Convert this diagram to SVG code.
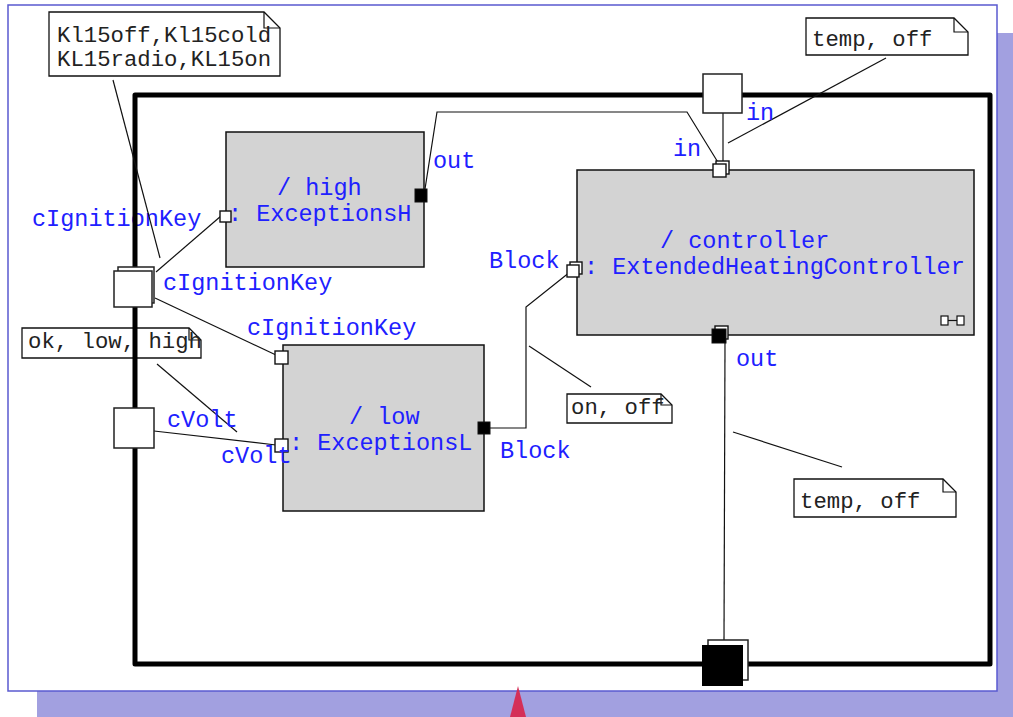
<svg xmlns="http://www.w3.org/2000/svg" width="1013" height="717" viewBox="0 0 1013 717">
  <defs>
    <style>
      .lbl { font-family: "Liberation Mono", "Courier New", monospace; font-size: 23.5px; fill: #2020ff; }
      .ntx { font-family: "Liberation Mono", "Courier New", monospace; font-size: 22.3px; fill: #222; }
      .part { fill: #d3d3d3; stroke: #111; stroke-width: 1.5; }
      .note { fill: #fff; stroke: #111; stroke-width: 1.3; }
      .fold { fill: none; stroke: #111; stroke-width: 1.2; }
      .pin { fill: #fff; stroke: #111; stroke-width: 1.4; }
      .pinb { fill: #000; stroke: #111; stroke-width: 1; }
      .wire { fill: none; stroke: #111; stroke-width: 1.2; }
      .port { fill: #fff; stroke: #222; stroke-width: 1.5; }
    </style>
  </defs>

  <!-- page with drop shadow -->
  <rect x="37" y="33" width="976" height="684" fill="#a2a0e0"/>
  <rect x="8" y="5" width="989" height="686" fill="#fff" stroke="#5a5ad0" stroke-width="1.5"/>
  <polygon points="518,686 510,717 526,717" fill="#d42f58"/>

  <!-- notes -->
  <g id="note-ignition">
    <path class="note" d="M49,12 H264 L280,28 V76 H49 Z"/>
    <path class="fold" d="M264,12 V28 H280"/>
    <text class="ntx" x="57" y="42">Kl15off,Kl15cold</text>
    <text class="ntx" x="57" y="66">KL15radio,KL15on</text>
  </g>
  <g id="note-volt">
    <path class="note" d="M22,328 H189 L201,340 V358 H22 Z"/>
    <path class="fold" d="M189,328 V340 H201"/>
    <text class="ntx" x="28" y="348">ok, low, high</text>
  </g>
  <g id="note-temp-in">
    <path class="note" d="M806,18 H954 L968,32 V55 H806 Z"/>
    <path class="fold" d="M954,18 V32 H968"/>
    <text class="ntx" x="812" y="46">temp, off</text>
  </g>
  <g id="note-temp-out">
    <path class="note" d="M794,479 H943 L956,492 V517 H794 Z"/>
    <path class="fold" d="M943,479 V492 H956"/>
    <text class="ntx" x="800" y="508">temp, off</text>
  </g>
  <g id="note-block">
    <path class="note" d="M567,394 H661 L672,405 V423 H567 Z"/>
    <path class="fold" d="M661,394 V405 H672"/>
    <text class="ntx" x="571" y="414">on, off</text>
  </g>

  <!-- outer labels -->
  <text class="lbl" x="32" y="226">cIgnitionKey</text>

  <!-- enclosing structure frame -->
  <rect id="frame" x="135" y="95" width="855" height="569" fill="none" stroke="#000" stroke-width="5" stroke-linejoin="round"/>

  <!-- connectors and note anchors -->
  <g id="connectors">
    <line class="wire" x1="113" y1="80" x2="160" y2="258"/>
    <line class="wire" x1="157" y1="364" x2="237" y2="432"/>
    <line class="wire" x1="886" y1="58" x2="728" y2="143"/>
    <line class="wire" x1="733" y1="432" x2="842" y2="467"/>
    <line class="wire" x1="529" y1="346" x2="591" y2="387"/>

    <line class="wire" x1="156" y1="272" x2="221" y2="216"/>
    <line class="wire" x1="155" y1="298" x2="276" y2="355"/>
    <line class="wire" x1="154" y1="431" x2="276" y2="445"/>
    <polyline class="wire" points="425,189 437,112 687,112 719,164"/>
    <line class="wire" x1="723" y1="113" x2="723" y2="164"/>
    <polyline class="wire" points="490,428 526,428 526,307 570,272"/>
    <line class="wire" x1="725" y1="343" x2="724" y2="641"/>
  </g>

  <!-- part: high -->
  <g id="part-high">
    <rect class="part" x="226" y="132" width="198" height="135"/>
    <text class="lbl" x="277" y="195">/ high</text>
    <text class="lbl" x="228" y="221">: ExceptionsH</text>
    <rect class="pin" x="220" y="211" width="11" height="11"/>
    <rect class="pinb" x="415" y="189" width="12" height="13"/>
    <text class="lbl" x="433" y="168">out</text>
  </g>

  <!-- part: low -->
  <g id="part-low">
    <rect class="part" x="283" y="345" width="201" height="166"/>
    <text class="lbl" x="349" y="424">/ low</text>
    <text class="lbl" x="289" y="450">: ExceptionsL</text>
    <rect class="pin" x="275" y="351" width="13" height="13"/>
    <rect class="pin" x="275" y="439" width="13" height="13"/>
    <rect class="pinb" x="478" y="422" width="12" height="12"/>
    <text class="lbl" x="247" y="335">cIgnitionKey</text>
    <text class="lbl" x="221" y="463">cVolt</text>
    <text class="lbl" x="500" y="458">Block</text>
  </g>

  <!-- part: controller -->
  <g id="part-controller">
    <rect class="part" x="577" y="170" width="397" height="165"/>
    <text class="lbl" x="660" y="248">/ controller</text>
    <text class="lbl" x="584" y="274">: ExtendedHeatingController</text>
    <!-- decomposition icon -->
    <rect x="941" y="316" width="7" height="9" fill="#fff" stroke="#111" stroke-width="1.2"/>
    <rect x="957" y="316" width="7" height="9" fill="#fff" stroke="#111" stroke-width="1.2"/>
    <line x1="948" y1="320.5" x2="957" y2="320.5" stroke="#111" stroke-width="1.2"/>
    <!-- in (top) -->
    <rect class="pin" x="716" y="161" width="13" height="13"/>
    <rect class="pin" x="713" y="164" width="13" height="13"/>
    <text class="lbl" x="673" y="156">in</text>
    <!-- Block (left) -->
    <rect class="pin" x="570" y="262" width="12" height="12"/>
    <rect class="pin" x="567" y="265" width="12" height="12"/>
    <text class="lbl" x="489" y="268">Block</text>
    <!-- out (bottom) -->
    <rect class="pin" x="715" y="326" width="13" height="13"/>
    <rect class="pinb" x="712" y="329" width="14" height="14"/>
    <text class="lbl" x="736" y="366">out</text>
  </g>

  <!-- boundary ports -->
  <g id="port-cIgnitionKey">
    <rect class="port" x="118" y="267" width="36" height="36"/>
    <rect class="port" x="114" y="271" width="38" height="36"/>
    <text class="lbl" x="163" y="290">cIgnitionKey</text>
  </g>
  <g id="port-cVolt">
    <rect class="port" x="114" y="408" width="40" height="40"/>
    <text class="lbl" x="167" y="427">cVolt</text>
  </g>
  <g id="port-in">
    <rect class="port" x="703" y="74" width="39" height="39"/>
    <text class="lbl" x="746" y="120">in</text>
  </g>
  <g id="port-out">
    <rect class="port" x="708" y="640" width="40" height="40"/>
    <rect x="702" y="645" width="41" height="41" fill="#000"/>
  </g>
</svg>
